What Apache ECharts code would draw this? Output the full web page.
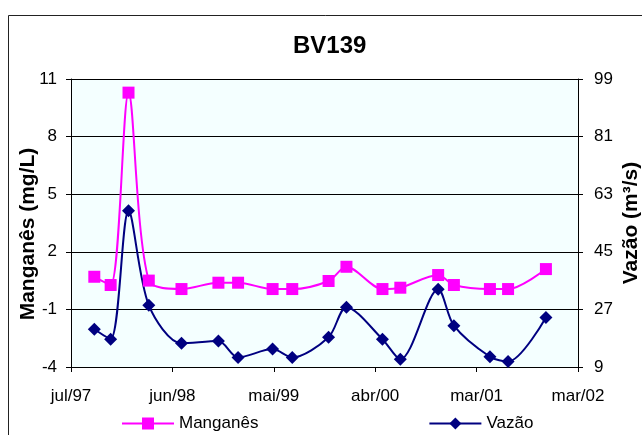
<!DOCTYPE html>
<html>
<head>
<meta charset="utf-8">
<script src="https://cdn.jsdelivr.net/npm/echarts@6/dist/echarts.min.js"></script>
<style>
  html, body { margin: 0; padding: 0; background: #fff; }
  #main { width: 642px; height: 435px; }
</style>
</head>
<body>
<div id="main"></div>
<script>
// datas das coletas
var datas = ['1997-10-15', '1997-12-08', '1998-02-05', '1998-04-13', '1998-07-30', '1998-11-29',
  '1999-02-02', '1999-05-27', '1999-07-31', '1999-11-28', '2000-01-26', '2000-05-24',
  '2000-07-22', '2000-11-24', '2001-01-15', '2001-05-14', '2001-07-13', '2001-11-15'];
// Manganês (mg/L)
var manganes = [0.70, 0.27, 10.29, 0.50, 0.06, 0.39, 0.39, 0.06, 0.06, 0.48, 1.22, 0.06,
  0.13, 0.79, 0.27, 0.06, 0.06, 1.10];
// Vazão (m3/s)
var vazao = [20.8, 17.7, 57.8, 28.3, 16.4, 17.1, 12.0, 14.6, 12.0, 18.3, 27.7, 17.7,
  11.4, 33.3, 21.9, 12.2, 10.7, 24.5];

// eixos
var inicio = '1997-07-30';
var passoDias = 335;
var mgMin = -4, mgMax = 11, mgPasso = 3;
var vzMin = 9, vzMax = 99, vzPasso = 18;
var meses = ['jan', 'fev', 'mar', 'abr', 'mai', 'jun', 'jul', 'ago', 'set', 'out', 'nov', 'dez'];

var DIA = 86400000;
var base = Date.parse(inicio + 'T00:00:00Z');
function dias(d) { return (Date.parse(d + 'T00:00:00Z') - base) / DIA; }
function rotulo(v) {
  var d = new Date(base + v * DIA);
  return meses[d.getUTCMonth()] + '/' + String(d.getUTCFullYear()).slice(2);
}

// deslocamento para os ticks partirem do minimo
var serieMn = datas.map(function (d, i) { return [dias(d), manganes[i] - mgMin]; });
var serieVz = datas.map(function (d, i) { return [dias(d), vazao[i] - vzMin]; });

var chart = echarts.init(document.getElementById('main'));
var fonte = 'Liberation Sans, Arial, sans-serif';

var option = {
  animation: false,
  backgroundColor: '#ffffff',
  textStyle: { fontFamily: fonte },
  graphic: [{
    type: 'rect',
    shape: { x: 8.5, y: 15.5, width: 700, height: 500 },
    style: { fill: 'none', stroke: '#222', lineWidth: 1 },
    silent: true
  }],
  title: {
    text: 'BV139',
    left: 288,
    top: 29,
    textStyle: { fontFamily: fonte, fontSize: 24, fontWeight: 'bold', color: '#000' }
  },
  legend: {
    left: 116,
    top: 410,
    itemWidth: 52,
    itemHeight: 15,
    itemGap: 170,
    textStyle: { fontFamily: fonte, fontSize: 17, color: '#000' },
    data: ['Manganês', 'Vazão']
  },
  grid: {
    left: 71, right: 64, top: 79, bottom: 68,
    outerBoundsMode: 'none',
    containLabel: false,
    show: true,
    backgroundColor: '#F4FFFF',
    borderWidth: 0
  },
  xAxis: {
    type: 'value',
    min: 0,
    max: passoDias * 5,
    interval: passoDias,
    axisLine: { lineStyle: { color: '#000', width: 1 } },
    axisTick: { show: true, length: 5, lineStyle: { color: '#000' } },
    splitLine: { show: false },
    axisLabel: {
      formatter: rotulo,
      fontFamily: fonte, fontSize: 17, color: '#000', margin: 21
    }
  },
  yAxis: [{
    type: 'value',
    min: 0,
    max: mgMax - mgMin,
    interval: mgPasso,
    name: 'Manganês (mg/L)',
    nameLocation: 'middle',
    nameGap: 32,
    nameMoveOverlap: false,
    nameTextStyle: {
      fontFamily: fonte, fontSize: 21, fontWeight: 'bold', color: '#000',
      padding: [0, 22, 0, 0]
    },
    axisLine: { show: true, lineStyle: { color: '#000', width: 1 } },
    axisTick: { show: true, length: 5, lineStyle: { color: '#000' } },
    splitLine: { show: true, lineStyle: { color: '#000', width: 1 } },
    axisLabel: {
      formatter: function (v) { return String(v + mgMin); },
      fontFamily: fonte, fontSize: 17, color: '#000', margin: 14
    }
  }, {
    type: 'value',
    position: 'right',
    min: 0,
    max: vzMax - vzMin,
    interval: vzPasso,
    name: 'Vazão (m³/s)',
    nameLocation: 'middle',
    nameGap: 43,
    nameRotate: 90,
    nameMoveOverlap: false,
    nameTextStyle: { fontFamily: fonte, fontSize: 21, fontWeight: 'bold', color: '#000' },
    axisLine: { show: true, lineStyle: { color: '#000', width: 1 } },
    axisTick: { show: true, length: 5, lineStyle: { color: '#000' } },
    splitLine: { show: false },
    axisLabel: {
      formatter: function (v) { return String(v + vzMin); },
      fontFamily: fonte, fontSize: 17, color: '#000', margin: 16
    }
  }],
  series: [{
    name: 'Manganês',
    type: 'line',
    yAxisIndex: 0,
    data: serieMn,
    smooth: 0.3,
    symbol: 'rect',
    symbolSize: 12,
    lineStyle: { color: '#FF00FF', width: 2 },
    itemStyle: { color: '#FF00FF' }
  }, {
    name: 'Vazão',
    type: 'line',
    yAxisIndex: 1,
    data: serieVz,
    smooth: 0.3,
    symbol: 'diamond',
    symbolSize: 13,
    lineStyle: { color: '#000080', width: 2 },
    itemStyle: { color: '#000080' }
  }]
};
option && chart.setOption(option);
</script>
</body>
</html>
